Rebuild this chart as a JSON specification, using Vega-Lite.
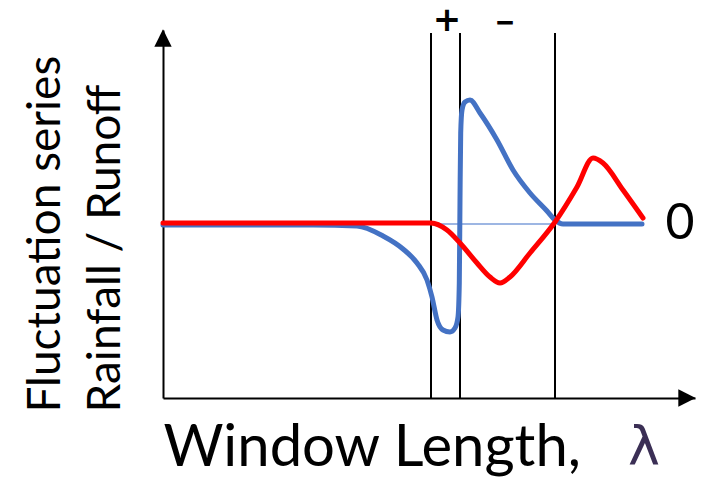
{
  "$schema": "https://vega.github.io/schema/vega-lite/v6.json",
  "width": 532,
  "height": 368,
  "autosize": {"type": "none"},
  "padding": {"left": 163, "top": 30, "right": 13, "bottom": 86},
  "background": "white",
  "config": {"view": {"stroke": null}, "font": "Lato"},
  "datasets": {
    "blue": [
      {"x": 0, "y": -1}, {"x": 150, "y": -1}, {"x": 194, "y": -2}, {"x": 220, "y": -12}, {"x": 240, "y": -25},
      {"x": 254, "y": -39}, {"x": 264, "y": -56}, {"x": 269, "y": -73}, {"x": 274, "y": -96},
      {"x": 280, "y": -106}, {"x": 287, "y": -108}, {"x": 292, "y": -104}, {"x": 295, "y": -93},
      {"x": 296.3, "y": -59}, {"x": 297, "y": 24}, {"x": 297.7, "y": 91}, {"x": 299, "y": 114},
      {"x": 302, "y": 122}, {"x": 307, "y": 124}, {"x": 317, "y": 111}, {"x": 334, "y": 84},
      {"x": 350, "y": 54}, {"x": 367, "y": 31}, {"x": 384, "y": 13}, {"x": 392, "y": 4},
      {"x": 400, "y": 0}, {"x": 479, "y": 0}
    ],
    "red": [
      {"x": 0, "y": 1}, {"x": 268, "y": 1}, {"x": 284, "y": -6}, {"x": 297, "y": -19},
      {"x": 314, "y": -39}, {"x": 327, "y": -53}, {"x": 337, "y": -59}, {"x": 347, "y": -53},
      {"x": 367, "y": -29}, {"x": 392, "y": 2}, {"x": 414, "y": 37}, {"x": 430, "y": 66},
      {"x": 440, "y": 61}, {"x": 460, "y": 34}, {"x": 480, "y": 6}
    ],
    "base": [{"x": 268, "y": 0}, {"x": 392, "y": 0}],
    "vlines": [{"x": 268, "y": 191, "y2": -174}, {"x": 297, "y": 191, "y2": -174}, {"x": 392, "y": 191, "y2": -174}],
    "arrows": [
      {"x": 0, "y": 186, "dir": "up"},
      {"x": 524, "y": -174, "dir": "right"}
    ],
    "plus": [{"x": 284, "y": 203, "t": "+"}],
    "minus": [{"x": 342, "y": 202, "t": "–"}],
    "zero": [{"x": 517, "y": 0, "t": "0"}],
    "lambda": [{"x": 481, "y": -241, "t": "λ"}]
  },
  "encoding": {
    "x": {"field": "x", "type": "quantitative", "scale": {"domain": [0, 532], "nice": false, "zero": false}},
    "y": {"field": "y", "type": "quantitative", "scale": {"domain": [-174, 194], "nice": false, "zero": false}}
  },
  "layer": [
    {
      "data": {"name": "vlines"},
      "mark": {"type": "rule", "color": "black", "strokeWidth": 2},
      "encoding": {
        "x": {"field": "x", "type": "quantitative", "axis": {
          "title": "Window Length,", "domain": true, "domainColor": "black", "domainWidth": 2,
          "ticks": false, "labels": false, "grid": false,
          "titleFont": "Lato", "titleFontSize": 58, "titleFontWeight": "normal", "titleColor": "black",
          "titleAnchor": "start", "titleAlign": "left", "titleBaseline": "alphabetic", "titleX": 0, "titleY": 67
        }},
        "y": {"field": "y", "type": "quantitative", "axis": {
          "title": ["Fluctuation series", "Rainfall / Runoff"], "domain": true, "domainColor": "black", "domainWidth": 2,
          "ticks": false, "labels": false, "grid": false,
          "titleFont": "Lato", "titleFontSize": 46, "titleFontWeight": "normal", "titleColor": "black",
          "titleAngle": -90, "titleAlign": "left", "titleBaseline": "alphabetic", "titleX": -104, "titleY": 382,
          "titleLineHeight": 60
        }},
        "y2": {"field": "y2"}
      }
    },
    {
      "data": {"name": "base"},
      "mark": {"type": "line", "color": "#9db6e3", "strokeWidth": 2},
      "encoding": {}
    },
    {
      "data": {"name": "blue"},
      "mark": {"type": "line", "color": "#4472C4", "strokeWidth": 5, "interpolate": "monotone", "strokeCap": "round", "strokeJoin": "round"},
      "encoding": {}
    },
    {
      "data": {"name": "red"},
      "mark": {"type": "line", "color": "#FF0000", "strokeWidth": 5, "interpolate": "monotone", "strokeCap": "round", "strokeJoin": "round"},
      "encoding": {}
    },
    {
      "data": {"name": "arrows"},
      "mark": {"type": "point", "filled": true, "color": "black", "opacity": 1, "size": 300},
      "encoding": {
        "shape": {"field": "dir", "type": "nominal", "scale": {"domain": ["up", "right"], "range": ["M0,-1L1,1L-1,1Z", "M1,0L-1,1L-1,-1Z"]}, "legend": null}
      }
    },
    {
      "data": {"name": "plus"},
      "mark": {"type": "text", "fontSize": 34, "fontWeight": "bold", "font": "DejaVu Sans", "color": "black", "align": "center", "baseline": "middle"},
      "encoding": {"text": {"field": "t"}}
    },
    {
      "data": {"name": "minus"},
      "mark": {"type": "text", "fontSize": 36, "font": "DejaVu Sans", "color": "black", "align": "center", "baseline": "middle", "stroke": "black", "strokeWidth": 1},
      "encoding": {"text": {"field": "t"}}
    },
    {
      "data": {"name": "zero"},
      "mark": {"type": "text", "fontSize": 50, "font": "Lato", "color": "black", "align": "center", "baseline": "middle"},
      "encoding": {"text": {"field": "t"}}
    },
    {
      "data": {"name": "lambda"},
      "mark": {"type": "text", "fontSize": 54, "font": "DejaVu Sans", "color": "#3b2f55", "align": "center", "baseline": "alphabetic"},
      "encoding": {"text": {"field": "t"}}
    }
  ]
}
